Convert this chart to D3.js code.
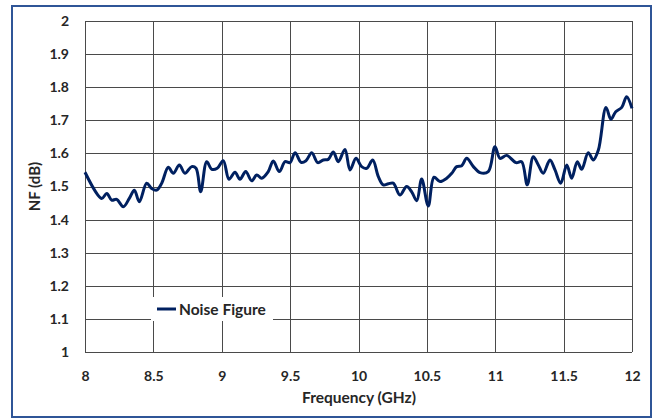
<!DOCTYPE html>
<html>
<head>
<meta charset="utf-8">
<script src="https://cdn.jsdelivr.net/npm/d3@7"></script>
<style>
  html, body { margin: 0; padding: 0; background: #fff; }
  svg { display: block; }
  text { font-family: Lato, "Open Sans", sans-serif; font-weight: bold; fill: #262626; }
</style>
</head>
<body>
<svg id="chart" width="659" height="419"></svg>
<script>
// Noise figure sweep, 8–12 GHz
const freqGHz = [
  8.000, 8.122, 8.159, 8.195, 8.232, 8.280, 8.324, 8.361, 8.397, 8.451,
  8.488, 8.524, 8.561, 8.609, 8.646, 8.690, 8.731, 8.780, 8.812, 8.846,
  8.890, 8.927, 8.967, 9.011, 9.053, 9.097, 9.133, 9.175, 9.219, 9.256,
  9.292, 9.340, 9.377, 9.421, 9.463, 9.499, 9.536, 9.580, 9.616, 9.658,
  9.702, 9.743, 9.779, 9.816, 9.852, 9.901, 9.938, 9.982, 10.023, 10.060,
  10.104, 10.145, 10.181, 10.218, 10.254, 10.303, 10.352, 10.389, 10.426, 10.462,
  10.510, 10.552, 10.596, 10.645, 10.682, 10.718, 10.755, 10.791, 10.840, 10.888,
  10.949, 10.998, 11.035, 11.084, 11.152, 11.193, 11.234, 11.278, 11.315, 11.351,
  11.400, 11.437, 11.479, 11.523, 11.559, 11.600, 11.632, 11.680, 11.717, 11.754,
  11.810, 11.846, 11.881, 11.925, 11.961, 12.000
];
const noiseFigureDb = [
  1.543, 1.464, 1.479, 1.459, 1.461, 1.439, 1.464, 1.489, 1.454, 1.510,
  1.494, 1.489, 1.510, 1.558, 1.540, 1.565, 1.540, 1.560, 1.555, 1.484,
  1.575, 1.552, 1.555, 1.578, 1.522, 1.543, 1.522, 1.545, 1.517, 1.535,
  1.525, 1.545, 1.577, 1.545, 1.575, 1.572, 1.602, 1.573, 1.578, 1.602,
  1.572, 1.580, 1.582, 1.604, 1.575, 1.612, 1.550, 1.585, 1.560, 1.555,
  1.580, 1.530, 1.505, 1.508, 1.510, 1.474, 1.500, 1.484, 1.457, 1.523,
  1.441, 1.528, 1.515, 1.525, 1.540, 1.560, 1.563, 1.585, 1.560, 1.542,
  1.545, 1.620, 1.585, 1.594, 1.572, 1.575, 1.505, 1.590, 1.565, 1.540,
  1.580, 1.550, 1.510, 1.565, 1.525, 1.575, 1.552, 1.602, 1.580, 1.610,
  1.739, 1.703, 1.726, 1.739, 1.771, 1.736
];
const xTicks = [8, 8.5, 9, 9.5, 10, 10.5, 11, 11.5, 12];
const yTicks = [1, 1.1, 1.2, 1.3, 1.4, 1.5, 1.6, 1.7, 1.8, 1.9, 2];
const seriesName = "Noise Figure";

const svg = d3.select("#chart");
const plot = { left: 85, right: 632, top: 21, bottom: 352 };

// outer frame
svg.append("rect")
  .attr("x", 12).attr("y", 6)
  .attr("width", 639).attr("height", 411)
  .attr("fill", "#fff")
  .attr("stroke", "#2f5597")
  .attr("stroke-width", 2);

const x = d3.scaleLinear().domain([8, 12]).range([plot.left, plot.right]);
const y = d3.scaleLinear().domain([1, 2]).range([plot.bottom, plot.top]);

// grid
const grid = svg.append("g").attr("stroke", "#4a4a4a").attr("stroke-width", 1).attr("shape-rendering", "crispEdges");
grid.selectAll("line.h").data(yTicks).join("line")
  .attr("x1", plot.left).attr("x2", plot.right)
  .attr("y1", d => Math.round(y(d)) + 0.5).attr("y2", d => Math.round(y(d)) + 0.5);
grid.selectAll("line.v").data(xTicks).join("line")
  .attr("y1", plot.top).attr("y2", plot.bottom)
  .attr("x1", d => Math.round(x(d)) + 0.5).attr("x2", d => Math.round(x(d)) + 0.5);

// tick labels
const xAxis = d3.axisBottom(x).tickValues(xTicks).tickSize(0).tickPadding(19).tickFormat(d3.format("~g"));
svg.append("g").attr("transform", `translate(0,${plot.bottom})`).call(xAxis)
  .call(g => g.select(".domain").remove())
  .selectAll("text").attr("font-size", 14).attr("font-family", "Lato, sans-serif").attr("fill", "#262626");

const yAxis = d3.axisLeft(y).tickValues(yTicks).tickSize(0).tickPadding(16).tickFormat(d3.format("~g"));
svg.append("g").attr("transform", `translate(${plot.left},0)`).call(yAxis)
  .call(g => g.select(".domain").remove())
  .selectAll("text").attr("font-size", 14).attr("font-family", "Lato, sans-serif").attr("fill", "#262626");

// axis titles
svg.append("text")
  .attr("x", 359).attr("y", 403)
  .attr("text-anchor", "middle").attr("font-size", 15.5)
  .text("Frequency (GHz)");

svg.append("text")
  .attr("transform", `translate(40,${(plot.top + plot.bottom) / 2}) rotate(-90)`)
  .attr("text-anchor", "middle").attr("font-size", 15)
  .text("NF (dB)");

// legend
const lg = svg.append("g").attr("transform", "translate(151,297)");
lg.append("rect").attr("width", 122).attr("height", 24).attr("fill", "#fff");
lg.append("line").attr("x1", 6).attr("x2", 25).attr("y1", 12).attr("y2", 12)
  .attr("stroke", "#002060").attr("stroke-width", 3);
lg.append("text").attr("x", 28).attr("y", 17.5).attr("font-size", 15.5).text(seriesName);

// series
const pts = freqGHz.map((f, i) => [f, noiseFigureDb[i]]);
const line = d3.line().x(d => x(d[0])).y(d => y(d[1])).curve(d3.curveCatmullRom.alpha(0.5));
svg.append("path").datum(pts)
  .attr("d", line)
  .attr("fill", "none")
  .attr("stroke", "#002060")
  .attr("stroke-width", 3)
  .attr("stroke-linejoin", "round");
</script>
</body>
</html>
